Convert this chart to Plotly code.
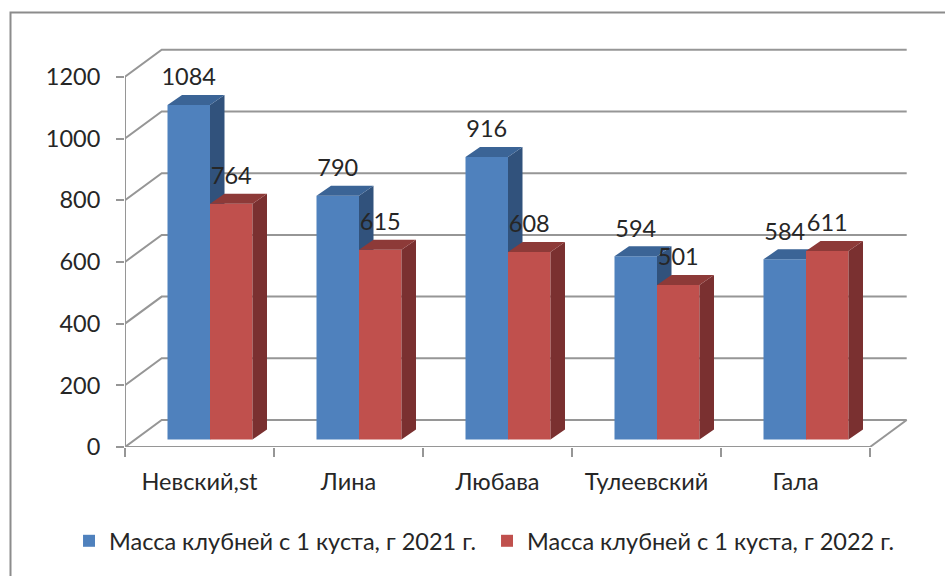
import plotly.graph_objects as go

categories = ["Невский,st", "Лина", "Любава", "Тулеевский", "Гала"]
series_2021 = [1084, 790, 916, 594, 584]
series_2022 = [764, 615, 608, 501, 611]
name_2021 = "Масса клубней с 1 куста, г 2021 г."
name_2022 = "Масса клубней с 1 куста, г 2022 г."
y_ticks = [0, 200, 400, 600, 800, 1000, 1200]

FONT = "Lato"
TXT = "#262626"
GRID = "#969696"
PX_X = 149.0       # pixels per category
PX_Y = 0.3085      # pixels per value unit
L, R, T, B = 125, 910, 40, 447
WALL_DX, WALL_DY = 36.7 / PX_X, 27 / PX_Y
BAR_W = 42.5 / PX_X
BAR_OFF = 10.5 / PX_X
BAR_BASE = 7.5 / PX_Y
DEPTH_X, DEPTH_Y = 14.5 / PX_X, 10 / PX_Y

xr = [-0.5, -0.5 + (R - L) / PX_X]
yr = [0, (B - T) / PX_Y]
n = len(categories)
x_end = n - 0.5

fig = go.Figure()

# walls and floor
gx, gy = [], []
for v in y_ticks:
    gx += [-0.5, -0.5 + WALL_DX, x_end + WALL_DX, None]
    gy += [v, v + WALL_DY, v + WALL_DY, None]
gx += [x_end, x_end + WALL_DX, None, -0.5, x_end, None, -0.5, -0.5]
gy += [0, WALL_DY, None, 0, 0, None, 0, y_ticks[-1]]
fig.add_trace(go.Scatter(x=gx, y=gy, mode="lines", line=dict(color=GRID, width=2),
                         showlegend=False, hoverinfo="skip", cliponaxis=False))


def add_series(vals, centers, name, front, side, top, xa, ya):
    fig.add_trace(go.Bar(x=centers, y=vals, base=BAR_BASE, width=BAR_W, name=name,
                         marker=dict(color=front, line=dict(width=0)), xaxis=xa, yaxis=ya))
    sx, sy, tx, ty = [], [], [], []
    for c, v in zip(centers, vals):
        x0, x1 = c - BAR_W / 2, c + BAR_W / 2
        b, h = BAR_BASE, BAR_BASE + v
        sx += [x1, x1 + DEPTH_X, x1 + DEPTH_X, x1, x1, None]
        sy += [b, b + DEPTH_Y, h + DEPTH_Y, h, b, None]
        tx += [x0, x0 + DEPTH_X, x1 + DEPTH_X, x1, x0, None]
        ty += [h, h + DEPTH_Y, h + DEPTH_Y, h, h, None]
    for px, py, col in ((sx, sy, side), (tx, ty, top)):
        fig.add_trace(go.Scatter(x=px, y=py, mode="lines", fill="toself", fillcolor=col,
                                 line=dict(width=0, color=col), showlegend=False,
                                 hoverinfo="skip", xaxis=xa, yaxis=ya))


idx = list(range(n))
c1 = [i + BAR_OFF - BAR_W / 2 for i in idx]
c2 = [i + BAR_OFF + BAR_W / 2 for i in idx]
add_series(series_2021, c1, name_2021, "#4F81BD", "#31527C", "#3B6496", "x2", "y2")
add_series(series_2022, c2, name_2022, "#C0504D", "#7A3030", "#8D3A38", "x3", "y3")

# value labels
LABEL_UP = 25.5 / PX_Y
fig.add_trace(go.Scatter(x=c1 + c2,
                         y=[v + BAR_BASE + LABEL_UP for v in series_2021 + series_2022],
                         text=[str(v) for v in series_2021 + series_2022],
                         mode="text", textposition="middle center",
                         textfont=dict(family=FONT, size=23.5, color=TXT),
                         showlegend=False, hoverinfo="skip", cliponaxis=False,
                         xaxis="x3", yaxis="y3"))

fig.update_layout(
    width=945, height=576, paper_bgcolor="white", plot_bgcolor="white",
    margin=dict(l=L, r=945 - R, t=T, b=576 - B, autoexpand=False),
    barmode="overlay", font=dict(family=FONT, size=23.5, color=TXT),
    xaxis=dict(range=xr, tickmode="array", tickvals=idx, ticktext=categories, ticks="",
               showgrid=False, zeroline=False, showline=False, ticklabelstandoff=18,
               tickfont=dict(family=FONT, size=23.5, color=TXT),
               minor=dict(tickmode="array", tickvals=[i - 0.5 for i in range(n + 1)],
                          ticks="outside", ticklen=9, tickwidth=2, tickcolor=GRID, showgrid=False)),
    yaxis=dict(range=yr, tickmode="array", tickvals=y_ticks, ticks="outside", ticklen=8,
               tickwidth=2, tickcolor=GRID, showgrid=False, zeroline=False, showline=False,
               ticklabelstandoff=11, tickfont=dict(family=FONT, size=23.5, color=TXT)),
    legend=dict(orientation="h", x=-0.0713, y=-0.231, xanchor="left", yanchor="middle",
                font=dict(family=FONT, size=23.5, color=TXT),
                bgcolor="rgba(0,0,0,0)", itemwidth=30, traceorder="normal",
                entrywidth=373, entrywidthmode="pixels"),
)
for k in ("2", "3"):
    fig.update_layout(**{
        f"xaxis{k}": dict(range=xr, overlaying="x", visible=False, anchor=f"y{k}"),
        f"yaxis{k}": dict(range=yr, overlaying="y", visible=False, anchor=f"x{k}"),
    })

# outer frame of the chart area
fx0, fy0 = (10.5 - L) / (R - L), 1 + (T - 12.5) / (B - T)
fig.add_shape(type="path", xref="paper", yref="paper", layer="below",
              path=f"M {fx0} {1 - (576 - T) / (B - T)} L {fx0} {fy0} L {(945 - L) / (R - L)} {fy0}",
              line=dict(color="#8C8C8C", width=2))

fig.write_html("out.html", post_script="document.body.style.margin='0';",
               config={"displayModeBar": False})
